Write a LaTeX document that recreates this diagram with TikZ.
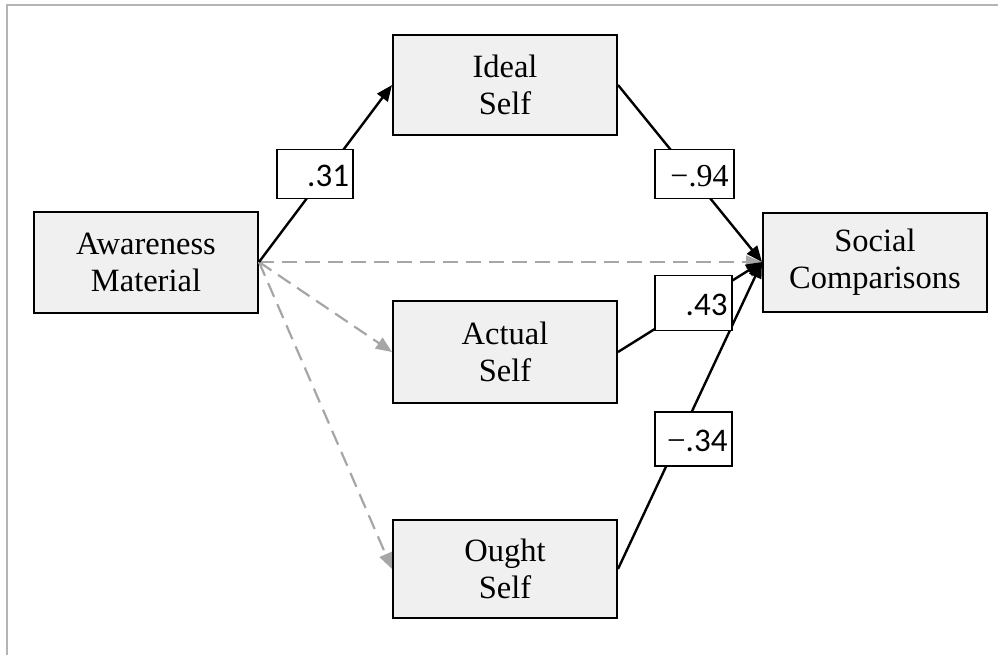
\documentclass[tikz,border=0pt]{standalone}
\usepackage{fontspec}
\setmainfont{Liberation Serif}
\newfontfamily\lblsans{Carlito}
\newfontfamily\lblserif{Liberation Serif}
\usetikzlibrary{arrows.meta}
\definecolor{boxfill}{HTML}{F0F0F0}
\definecolor{dashgrey}{HTML}{A6A6A6}
\definecolor{framegrey}{HTML}{B4B4B4}
\tikzset{
  varbox/.style={draw=black, line width=2pt, fill=boxfill, minimum width=224pt, minimum height=100pt,
    align=center, inner sep=0pt, font=\fontsize{32.5}{37}\selectfont},
  lblbox/.style={draw=black, line width=1.4pt, fill=white, inner sep=0pt, align=right,
    text height=24pt, text depth=0pt},
  sanslbl/.style={font=\lblsans\fontsize{33}{35}\selectfont},
  solidarrow/.style={draw=black, line width=2.4pt, -{Triangle[length=16pt,width=13pt]}},
  dasharrow/.style={draw=dashgrey, line width=2.2pt, dash pattern=on 15pt off 8pt, -{Triangle[length=16pt,width=13pt]}},
}
\begin{document}
\begin{tikzpicture}[x=1pt,y=-1pt]
\useasboundingbox (0,0) rectangle (998,655);
\draw[framegrey, line width=2pt] (7,655) -- (7,5) -- (998,5);

\node[varbox, minimum width=224pt, minimum height=101pt] (aw) at (146,262) {Awareness\\Material};
\node[varbox] (ideal) at (505,85) {Ideal\\Self};
\node[varbox, minimum height=102pt] (actual) at (505,352) {Actual\\Self};
\node[varbox, minimum height=98pt] (ought) at (505,569) {Ought\\Self};
\node[varbox, minimum width=224pt, minimum height=99pt] (social) at (875,262) {Social\\Comparisons};

\draw[dasharrow] (aw.east) -- (social.west);
\draw[dasharrow] (aw.east) -- (actual.west);
\draw[dasharrow] (aw.east) -- (ought.west);

\draw[solidarrow] (aw.east) -- (ideal.west);
\draw[solidarrow] (ideal.east) -- (social.west);
\draw[solidarrow] (actual.east) -- (social.west);
\draw[solidarrow] (ought.east) -- (social.west);

\node[lblbox, sanslbl, minimum width=76pt, minimum height=49pt, text width=68pt] (l31) at (315,174) {.31};
\node[lblbox, minimum width=79pt, minimum height=49pt, text width=68pt, font=\lblserif\fontsize{32}{34}\selectfont] (l94) at (694.5,174) {−.94};
\node[lblbox, sanslbl, minimum width=77pt, minimum height=55pt, text width=68pt] (l43) at (693.5,303) {.43};
\node[lblbox, sanslbl, minimum width=77pt, minimum height=54pt, text width=68pt] (l34) at (693.5,439) {{\lblserif −}.34};
\end{tikzpicture}
\end{document}
